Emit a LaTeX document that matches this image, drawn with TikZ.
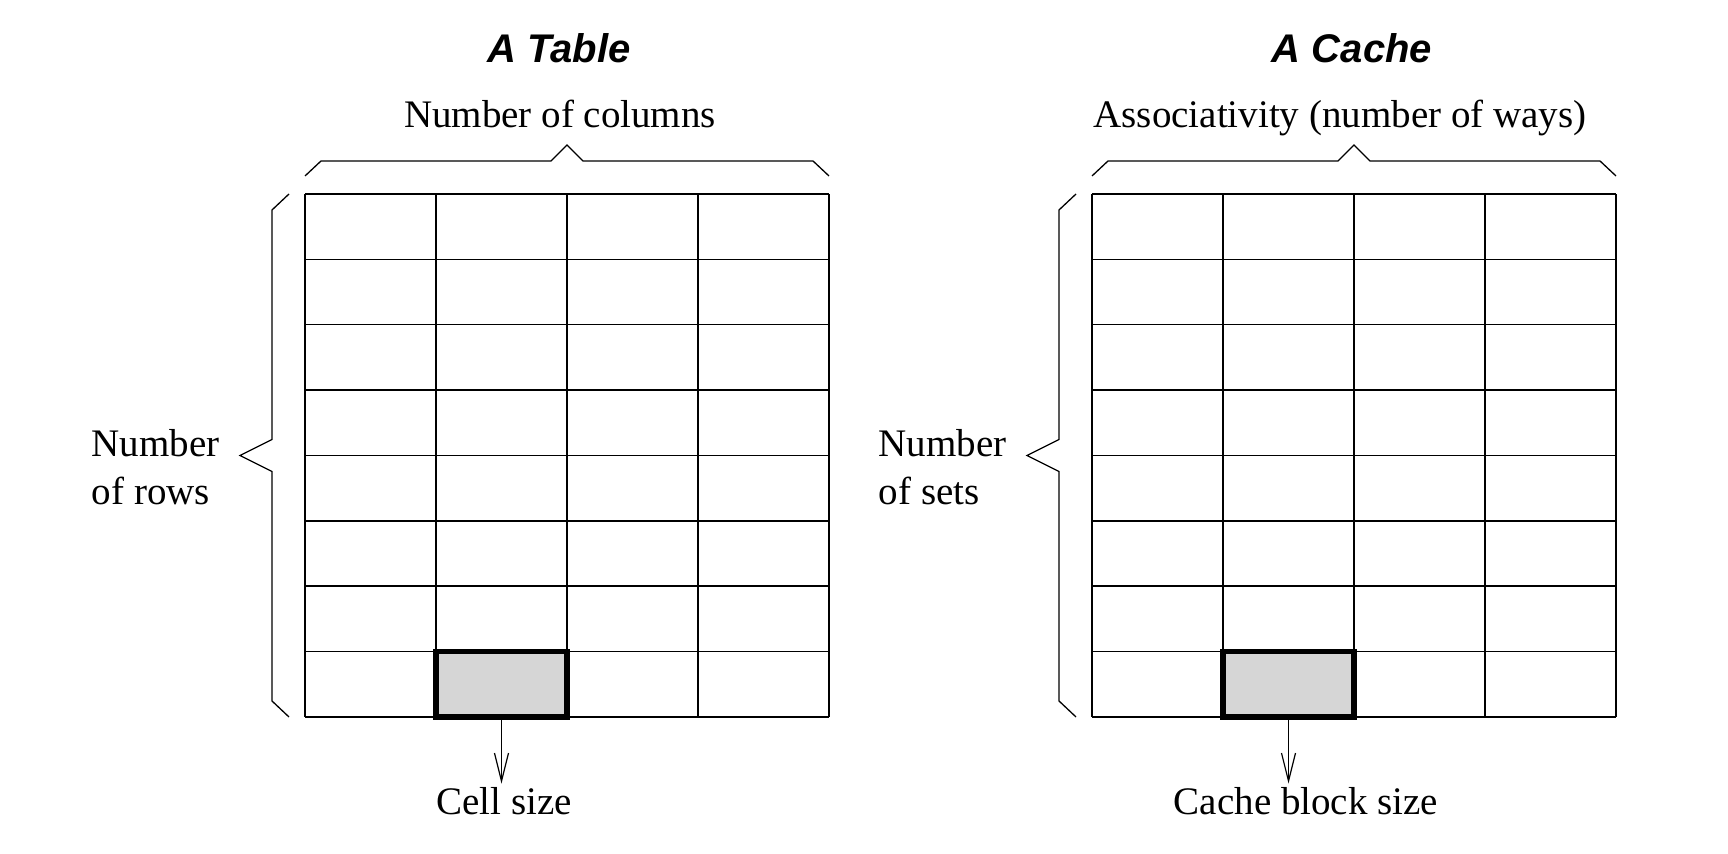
\documentclass[tikz,border=0pt]{standalone}
\usepackage{fontspec}
\setmainfont{Liberation Serif}
\setsansfont{Liberation Sans}
\usetikzlibrary{arrows.meta}
\definecolor{cellgray}{RGB}{214,214,214}
\tikzset{
  gridline/.style={line width=0.75pt},
  bracket/.style={line width=0.65pt, line join=miter},
  hilite/.style={fill=cellgray, line width=2.7pt},
  lbl/.style={font=\fontsize{19.5}{24}\selectfont, inner sep=0pt},
  ttl/.style={font=\fontsize{20}{24}\selectfont\sffamily\bfseries\itshape, inner sep=0pt},
  pointer/.style={-{Straight Barb[length=14pt,width=7pt]}, line width=0.6pt},
}

\begin{document}
\begin{tikzpicture}[x=0.5pt, y=0.5pt]
  \useasboundingbox (0,0) rectangle (1728,854);
  % the table
  \begin{scope}[shift={(305,137)}]
    \foreach \c in {0,...,4} \draw[gridline] (131*\c,0) -- (131*\c,523);
    \foreach \r in {0,...,8} \draw[gridline] (0,65.375*\r) -- (524,65.375*\r);
    \filldraw[hilite] (131,0) rectangle (262,65.375);
    \coordinate (tcell) at (196.5,0);
    \draw[bracket] (0,541) -- (16,556) -- (246,556) -- (262,572) -- (278,556) -- (508,556) -- (524,541);
    \draw[bracket] (-16,523) -- (-33,507) -- (-33,277.5) -- (-65,261.5) -- (-33,245.5) -- (-33,16) -- (-16,0);
    \node[ttl, anchor=base] (ttitle) at (254,654) {A Table};
    \node[lbl, anchor=base east, align=left] (trows) at (-85,212) {Number\\of rows};
    \node[lbl, anchor=base] (tcols) at (255,589) {Number of columns};
    \node[lbl, anchor=base, inner sep=2pt] (tsize) at (199,-98) {Cell size};
    \draw[pointer] (tcell) -- (tcell |- tsize.north);
  \end{scope}
  % the cache
  \begin{scope}[shift={(1092,137)}]
    \foreach \c in {0,...,4} \draw[gridline] (131*\c,0) -- (131*\c,523);
    \foreach \r in {0,...,8} \draw[gridline] (0,65.375*\r) -- (524,65.375*\r);
    \filldraw[hilite] (131,0) rectangle (262,65.375);
    \coordinate (ccell) at (196.5,0);
    \draw[bracket] (0,541) -- (16,556) -- (246,556) -- (262,572) -- (278,556) -- (508,556) -- (524,541);
    \draw[bracket] (-16,523) -- (-33,507) -- (-33,277.5) -- (-65,261.5) -- (-33,245.5) -- (-33,16) -- (-16,0);
    \node[ttl, anchor=base] (ctitle) at (260,654) {A Cache};
    \node[lbl, anchor=base east, align=left] (csets) at (-85,212) {Number\\of sets};
    \node[lbl, anchor=base] (cways) at (248,589) {Associativity (number of ways)};
    \node[lbl, anchor=base, inner sep=2pt] (csize) at (214,-98) {Cache block size};
    \draw[pointer] (ccell) -- (ccell |- csize.north);
  \end{scope}
\end{tikzpicture}
\end{document}
